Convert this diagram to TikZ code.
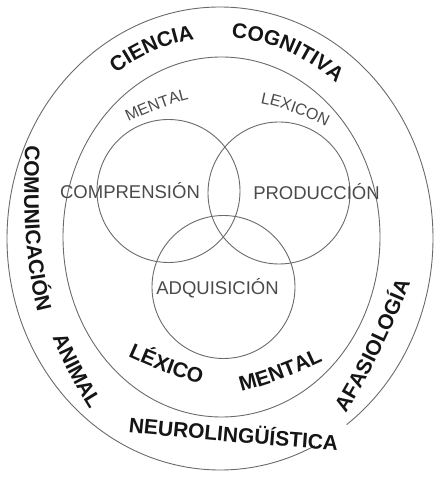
\documentclass[tikz,border=0pt]{standalone}
\usepackage{fontspec}
\setmainfont{Liberation Sans}
\usetikzlibrary{decorations.text}
\definecolor{linegray}{HTML}{6A6A6A}
\definecolor{txtdark}{HTML}{151515}
\definecolor{txtgray}{HTML}{4A4A4A}
\newcommand\lblB{\fontsize{21}{21}\selectfont\bfseries\color{txtdark}}
\newcommand\lblR{\fontsize{18.5}{18.5}\selectfont\color{txtgray}}
\newcommand\lblS{\fontsize{16}{16}\selectfont\color{txtgray}}
\begin{document}
\begin{tikzpicture}[x=1pt,y=1pt,
  ring/.style={draw=linegray, line width=0.9pt},
  curvedB/.style={decorate, decoration={text along path, text align=center, text={|\lblB|#1}}},
  curvedS/.style={decorate, decoration={text along path, text align=center, text={|\lblS|#1}}},
  plainlbl/.style={font=\lblR, anchor=base, inner sep=0pt}]
\useasboundingbox (0,0) rectangle (441,480);
% outer open ring
\draw[ring] (220,241.5) ++(-53.5:213pt and 231.5pt)
  arc[start angle=-53.5, end angle=296.5, x radius=213pt, y radius=231.5pt];
% inner ring
\draw[ring] (221.5,243) ellipse[x radius=158.5pt, y radius=180pt];
% Venn circles
\draw[ring] (168.5,289) circle[radius=71.5pt];
\draw[ring] (279,287) circle[radius=71pt];
\draw[ring] (223.5,193) circle[radius=71.5pt];
% straight labels
\node[plainlbl] (comp) at (130,281) {COMPRENSIÓN};
\node[plainlbl] (prod) at (316.5,280) {PRODUCCIÓN};
\node[plainlbl] (adq) at (217.5,185) {ADQUISICIÓN};
% curved labels
\path[curvedB=CIENCIA] (220,241.5) ++(140:183pt and 201pt)
  arc[start angle=140, end angle=82, x radius=183pt, y radius=201pt];
\path[curvedB=COGNITIVA] (220,241.5) ++(106:183pt and 201pt)
  arc[start angle=106, end angle=32, x radius=183pt, y radius=201pt];
\path[curvedS=MENTAL] (122,355) .. controls (145,366) and (170,377) .. (196,382);
\path[curvedS=LEXICON] (254,378) .. controls (280,374) and (305,364) .. (332,350);
\path[curvedB=COMUNICACIÓN] (26,343) .. controls (22,283) and (24,215) .. (40,160);
\path[curvedB=ANIMAL] (51,146) .. controls (61,121) and (74,95) .. (92,67);
\path[curvedB=LÉXICO] (124,125) .. controls (150,113) and (177,102) .. (205,95);
\path[curvedB=MENTAL] (236,87) .. controls (265,94) and (295,105) .. (328,121);
\path[curvedB=NEUROLINGÜÍSTICA] (118,49) .. controls (195,41) and (270,34) .. (348,29);
\path[curvedB=AFASIOLOGÍA] (338,55) .. controls (372,104) and (400,172) .. (416,210);
\end{tikzpicture}
\end{document}
